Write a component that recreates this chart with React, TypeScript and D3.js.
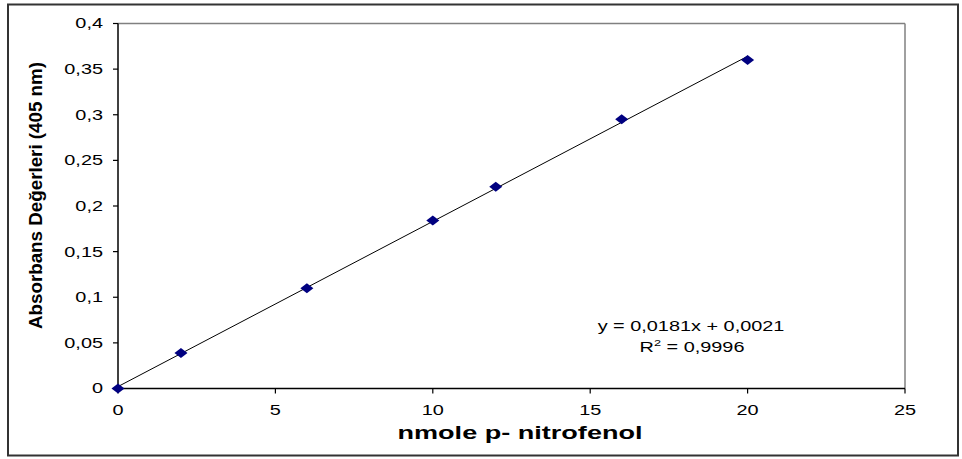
import React from "react";
import * as d3 from "d3";

const xValues = [0, 2, 6, 10, 12, 16, 20];
const yValues = [0, 0.039, 0.11, 0.184, 0.221, 0.295, 0.36];
const xTicks = [0, 5, 10, 15, 20, 25];
const yTicks = [0, 0.05, 0.1, 0.15, 0.2, 0.25, 0.3, 0.35, 0.4];
const slope = 0.0181;
const intercept = 0.0021;
const eqText = "y = 0,0181x + 0,0021";
const r2Text = "0,9996";
const xTitle = "nmole p- nitrofenol";
const yTitle = "Absorbans Değerleri (405 nm)";

const fmt = (v: number) => String(Math.round(v * 1000) / 1000).replace(".", ",");

export default function App() {
  const W = 962, H = 459;
  const L = 118, R = 905, T = 23.5, B = 388.5;
  const x = d3.scaleLinear().domain([0, 25]).range([L, R]);
  const y = d3.scaleLinear().domain([0, 0.4]).range([B, T]);
  const lineGen = d3.line<number>().x(d => x(d)).y(d => y(slope * d + intercept));
  const font = "Liberation Sans, Arial, sans-serif";
  const sx = 1.42;
  return (
    <svg width={W} height={H} style={{ position: "absolute", left: 0, top: 0, background: "#fff" }}>
      <rect x={8} y={4.5} width={950} height={451} fill="#fff" stroke="#333" strokeWidth={2} />
      <line x1={L} y1={T} x2={R} y2={T} stroke="#808080" strokeWidth={1.5} />
      <line x1={R} y1={T} x2={R} y2={B} stroke="#808080" strokeWidth={1.5} />
      <line x1={L} y1={T} x2={L} y2={B} stroke="#000" strokeWidth={1.5} />
      <line x1={L} y1={B} x2={R} y2={B} stroke="#000" strokeWidth={1.5} />
      {yTicks.map(t => (
        <g key={"y" + t}>
          <line x1={L - 5} x2={L} y1={y(t)} y2={y(t)} stroke="#000" strokeWidth={1.2} />
          <text transform={`translate(103,${y(t)}) scale(${sx},1)`} dy="0.35em" textAnchor="end" fontFamily={font} fontSize={14}>{fmt(t)}</text>
        </g>
      ))}
      {xTicks.map(t => (
        <g key={"x" + t}>
          <line x1={x(t)} x2={x(t)} y1={B} y2={B + 5} stroke="#000" strokeWidth={1.2} />
          <text transform={`translate(${x(t)},415) scale(${sx},1)`} textAnchor="middle" fontFamily={font} fontSize={14}>{t}</text>
        </g>
      ))}
      <path d={lineGen([0, 20]) || ""} fill="none" stroke="#000" strokeWidth={1} />
      {xValues.map((xv, i) => {
        const cx = x(xv), cy = y(yValues[i]);
        return <path key={i} d={`M${cx - 6.5},${cy} L${cx},${cy - 5} L${cx + 6.5},${cy} L${cx},${cy + 5} Z`} fill="#000080" />;
      })}
      <text transform={`translate(691,331) scale(${sx},1)`} textAnchor="middle" fontFamily={font} fontSize={14}>{eqText}</text>
      <text transform={`translate(692,352) scale(${sx},1)`} textAnchor="middle" fontFamily={font} fontSize={14}>
        R<tspan fontSize={9} dy="-6">2</tspan><tspan dy="6"> = {r2Text}</tspan>
      </text>
      <text x={520} y={438.5} textAnchor="middle" fontFamily={font} fontSize={18} fontWeight="bold"
        textLength={245} lengthAdjust="spacingAndGlyphs">{xTitle}</text>
      <text transform={`translate(35,195.5) rotate(-90)`} dy="0.35em" textAnchor="middle"
        fontFamily={font} fontSize={19} fontWeight="bold" textLength={267} lengthAdjust="spacingAndGlyphs">{yTitle}</text>
    </svg>
  );
}
